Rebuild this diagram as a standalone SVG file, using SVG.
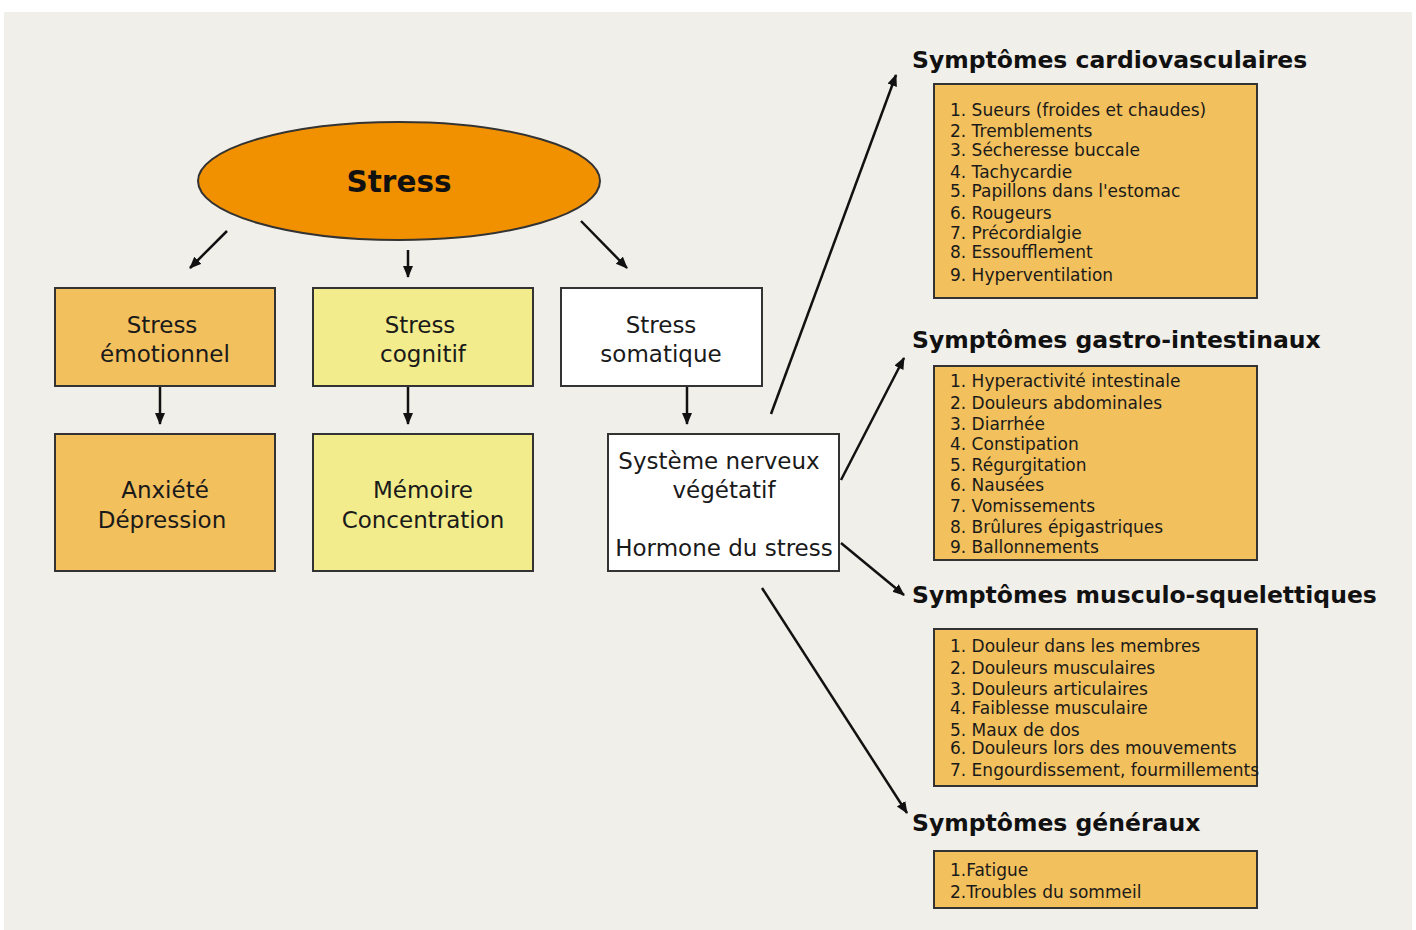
<svg xmlns="http://www.w3.org/2000/svg" width="1416" height="930" viewBox="0 0 1416 930">
<defs>
<style>
.box{stroke:#333;stroke-width:2}
.or{fill:#F2C05C}
.ye{fill:#F2EC8C}
.wh{fill:#FFFFFF}
.lst{fill:#F2C05C;stroke:#333;stroke-width:2}
.bt{font-family:"DejaVu Sans","Verdana",sans-serif;font-size:23px;fill:#1a1a1a;text-anchor:middle}
.tt{font-family:"DejaVu Sans","Verdana",sans-serif;font-weight:bold;font-size:23.5px;fill:#111}
.li{font-family:"DejaVu Sans","Verdana",sans-serif;font-size:17px;fill:#1a1a1a}
.con line{stroke:#111;stroke-width:2.5;marker-end:url(#ah)}
</style>
<marker id="ah" markerUnits="userSpaceOnUse" markerWidth="14" markerHeight="12" refX="11" refY="5" orient="auto">
<path d="M0,0 L12,5 L0,10 z" fill="#111"/>
</marker>
</defs>
<rect x="0" y="0" width="1416" height="930" fill="#FFFFFF"/>
<rect x="4" y="12" width="1408" height="918" fill="#F1EFE9"/>

<g id="stress">
<ellipse cx="399" cy="181" rx="201" ry="59" fill="#F29100" stroke="#333" stroke-width="2"/>
<text x="399" y="192" font-family="DejaVu Sans, Verdana, sans-serif" font-weight="bold" font-size="29.5" fill="#111" text-anchor="middle">Stress</text>
</g>

<g id="stress-emotionnel">
<rect class="box or" x="55" y="288" width="220" height="98"/>
<text class="bt" x="162" y="333">Stress</text>
<text class="bt" x="165" y="362">émotionnel</text>
</g>
<g id="stress-cognitif">
<rect class="box ye" x="313" y="288" width="220" height="98"/>
<text class="bt" x="420" y="333">Stress</text>
<text class="bt" x="423" y="362">cognitif</text>
</g>
<g id="stress-somatique">
<rect class="box wh" x="561" y="288" width="201" height="98"/>
<text class="bt" x="661" y="333">Stress</text>
<text class="bt" x="661" y="362">somatique</text>
</g>
<g id="anxiete">
<rect class="box or" x="55" y="434" width="220" height="137"/>
<text class="bt" x="165" y="498">Anxiété</text>
<text class="bt" x="162" y="528">Dépression</text>
</g>
<g id="memoire">
<rect class="box ye" x="313" y="434" width="220" height="137"/>
<text class="bt" x="423" y="498">Mémoire</text>
<text class="bt" x="423" y="528">Concentration</text>
</g>
<g id="snv">
<rect class="box wh" x="608" y="434" width="231" height="137"/>
<text class="bt" x="719" y="469">Système nerveux</text>
<text class="bt" x="724" y="498">végétatif</text>
<text class="bt" x="724" y="556">Hormone du stress</text>
</g>

<g id="cardio">
<text class="tt" x="912" y="68">Symptômes cardiovasculaires</text>
<rect class="lst" x="934" y="84" width="323" height="214"/>
<text class="li" x="950" y="116">1. Sueurs (froides et chaudes)</text>
<text class="li" x="950" y="137">2. Tremblements</text>
<text class="li" x="950" y="156">3. Sécheresse buccale</text>
<text class="li" x="950" y="178">4. Tachycardie</text>
<text class="li" x="950" y="197">5. Papillons dans l'estomac</text>
<text class="li" x="950" y="219">6. Rougeurs</text>
<text class="li" x="950" y="239">7. Précordialgie</text>
<text class="li" x="950" y="258">8. Essoufflement</text>
<text class="li" x="950" y="281">9. Hyperventilation</text>
</g>

<g id="gastro">
<text class="tt" x="912" y="348">Symptômes gastro-intestinaux</text>
<rect class="lst" x="934" y="366" width="323" height="194"/>
<text class="li" x="950" y="387">1. Hyperactivité intestinale</text>
<text class="li" x="950" y="409">2. Douleurs abdominales</text>
<text class="li" x="950" y="430">3. Diarrhée</text>
<text class="li" x="950" y="450">4. Constipation</text>
<text class="li" x="950" y="471">5. Régurgitation</text>
<text class="li" x="950" y="491">6. Nausées</text>
<text class="li" x="950" y="512">7. Vomissements</text>
<text class="li" x="950" y="533">8. Brûlures épigastriques</text>
<text class="li" x="950" y="553">9. Ballonnements</text>
</g>

<g id="musculo">
<text class="tt" x="912" y="603">Symptômes musculo-squelettiques</text>
<rect class="lst" x="934" y="629" width="323" height="157"/>
<text class="li" x="950" y="652">1. Douleur dans les membres</text>
<text class="li" x="950" y="674">2. Douleurs musculaires</text>
<text class="li" x="950" y="695">3. Douleurs articulaires</text>
<text class="li" x="950" y="714">4. Faiblesse musculaire</text>
<text class="li" x="950" y="736">5. Maux de dos</text>
<text class="li" x="950" y="754">6. Douleurs lors des mouvements</text>
<text class="li" x="950" y="776">7. Engourdissement, fourmillements</text>
</g>

<g id="generaux">
<text class="tt" x="912" y="831">Symptômes généraux</text>
<rect class="lst" x="934" y="851" width="323" height="57"/>
<text class="li" x="950" y="876">1.Fatigue</text>
<text class="li" x="950" y="898">2.Troubles du sommeil</text>
</g>

<g id="connectors" class="con">
<line x1="227" y1="231" x2="190" y2="268"/>
<line x1="408" y1="250" x2="408" y2="277"/>
<line x1="581" y1="221" x2="627" y2="268"/>
<line x1="160" y1="387" x2="160" y2="424"/>
<line x1="408" y1="387" x2="408" y2="424"/>
<line x1="687" y1="387" x2="687" y2="424"/>
<line x1="771" y1="414" x2="896" y2="75"/>
<line x1="841" y1="480" x2="904" y2="358"/>
<line x1="841" y1="543" x2="904" y2="595"/>
<line x1="762" y1="588" x2="907" y2="813"/>
</g>
</svg>
